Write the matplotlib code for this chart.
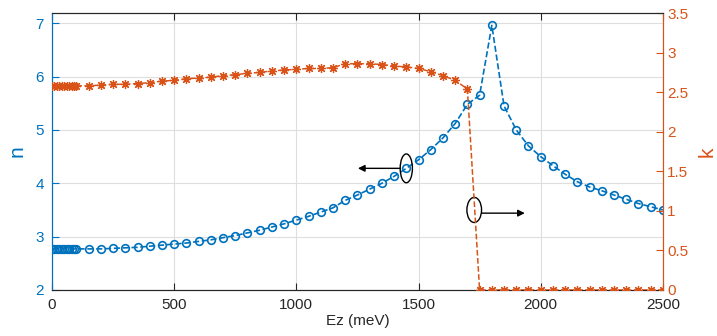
import matplotlib

matplotlib.use("Agg")

import matplotlib.pyplot as plt
from matplotlib.patches import Ellipse

plt.rcParams["font.family"] = ["Liberation Sans", "DejaVu Sans"]

BLUE = (0.0, 0.447, 0.741)
ORANGE = (0.85, 0.325, 0.098)
DARK = (0.15, 0.15, 0.15)

# photon energy grid (meV)
energy = [0, 10, 20, 30, 40, 50, 60, 70, 80, 90, 100,
          150, 200, 250, 300, 350, 400, 450, 500, 550, 600,
          650, 700, 750, 800, 850, 900, 950, 1000, 1050, 1100,
          1150, 1200, 1250, 1300, 1350, 1400, 1450, 1500, 1550, 1600,
          1650, 1700, 1750, 1800, 1850, 1900, 1950, 2000, 2050, 2100,
          2150, 2200, 2250, 2300, 2350, 2400, 2450, 2500]

# refractive index n
n_vals = [2.77] * 11 + [
    2.77, 2.77, 2.78, 2.79, 2.80, 2.82, 2.84, 2.86, 2.88, 2.91,
    2.94, 2.98, 3.02, 3.07, 3.12, 3.18, 3.24, 3.31, 3.38, 3.46,
    3.54, 3.68, 3.78, 3.89, 4.00, 4.13, 4.28, 4.44, 4.63, 4.85,
    5.12, 5.48, 5.65, 6.96, 5.45, 5.00, 4.70, 4.50, 4.33, 4.17,
    4.03, 3.93, 3.86, 3.78, 3.70, 3.62, 3.56, 3.50]

# extinction coefficient k
k_vals = [2.58] * 11 + [
    2.58, 2.59, 2.60, 2.60, 2.61, 2.62, 2.64, 2.65, 2.67, 2.68,
    2.69, 2.71, 2.72, 2.74, 2.75, 2.77, 2.78, 2.79, 2.80, 2.80,
    2.81, 2.86, 2.86, 2.86, 2.85, 2.83, 2.82, 2.80, 2.76, 2.71,
    2.65, 2.54] + [0.0] * 16

x_ticks = [0, 500, 1000, 1500, 2000, 2500]
n_ticks = [2, 3, 4, 5, 6, 7]
k_ticks = [0, 0.5, 1, 1.5, 2, 2.5, 3, 3.5]
k_tick_labels = ["0", "0.5", "1", "1.5", "2", "2.5", "3", "3.5"]

fig = plt.figure(figsize=(7.17, 3.36), dpi=100)
ax = fig.add_axes([0.0725, 0.137, 0.852, 0.824])
ax2 = ax.twinx()

ax.plot(energy, n_vals, "--", color=BLUE, lw=1.2, marker="o",
        markersize=5.5, markerfacecolor="none", markeredgewidth=1.2, zorder=3)
ax2.plot(energy, k_vals, "--", color=ORANGE, lw=1.1, marker=(8, 2, 0),
         markersize=6.5, markeredgewidth=0.9, zorder=3)

ax.set_xlim(0, 2500)
ax.set_ylim(2, 7.19)
ax2.set_ylim(0, 3.5)
ax.set_xticks(x_ticks)
ax.set_yticks(n_ticks)
ax2.set_yticks(k_ticks)
ax2.set_yticklabels(k_tick_labels)

ax.grid(True, color=(0.87, 0.87, 0.87), lw=0.8)
ax.set_axisbelow(True)

ax.tick_params(axis="x", direction="in", top=True, labelsize=11,
               colors=DARK, length=5, pad=6)
ax.tick_params(axis="y", direction="in", labelsize=11, colors=BLUE,
               length=5, pad=6)
ax2.tick_params(axis="y", direction="in", labelsize=11, colors=ORANGE,
                length=5, pad=3)

for a in (ax, ax2):
    a.spines["top"].set_color(DARK)
    a.spines["bottom"].set_color(DARK)
    a.spines["left"].set_color(BLUE)
    a.spines["right"].set_color(ORANGE)

ax.set_xlabel("Ez (meV)", fontsize=11, color=DARK, labelpad=1)
ax.set_ylabel("n", fontsize=15, color=BLUE, labelpad=6)
ax2.set_ylabel("k", fontsize=15, color=ORANGE, labelpad=7)

# markers pointing each curve to its axis
ax.add_patch(Ellipse((1450, 4.28), 50, 0.54, fill=False, ec="k", lw=1, zorder=4))
ax.annotate("", xy=(1252, 4.28), xytext=(1425, 4.28),
            arrowprops=dict(arrowstyle="-|>", color="k", lw=1,
                            mutation_scale=10, shrinkA=0, shrinkB=0))
ax.add_patch(Ellipse((1728, 3.50), 60, 0.47, fill=False, ec="k", lw=1, zorder=4))
ax.annotate("", xy=(1935, 3.44), xytext=(1758, 3.44),
            arrowprops=dict(arrowstyle="-|>", color="k", lw=1,
                            mutation_scale=10, shrinkA=0, shrinkB=0))

fig.savefig("out.png", dpi=100)
plt.close(fig)
